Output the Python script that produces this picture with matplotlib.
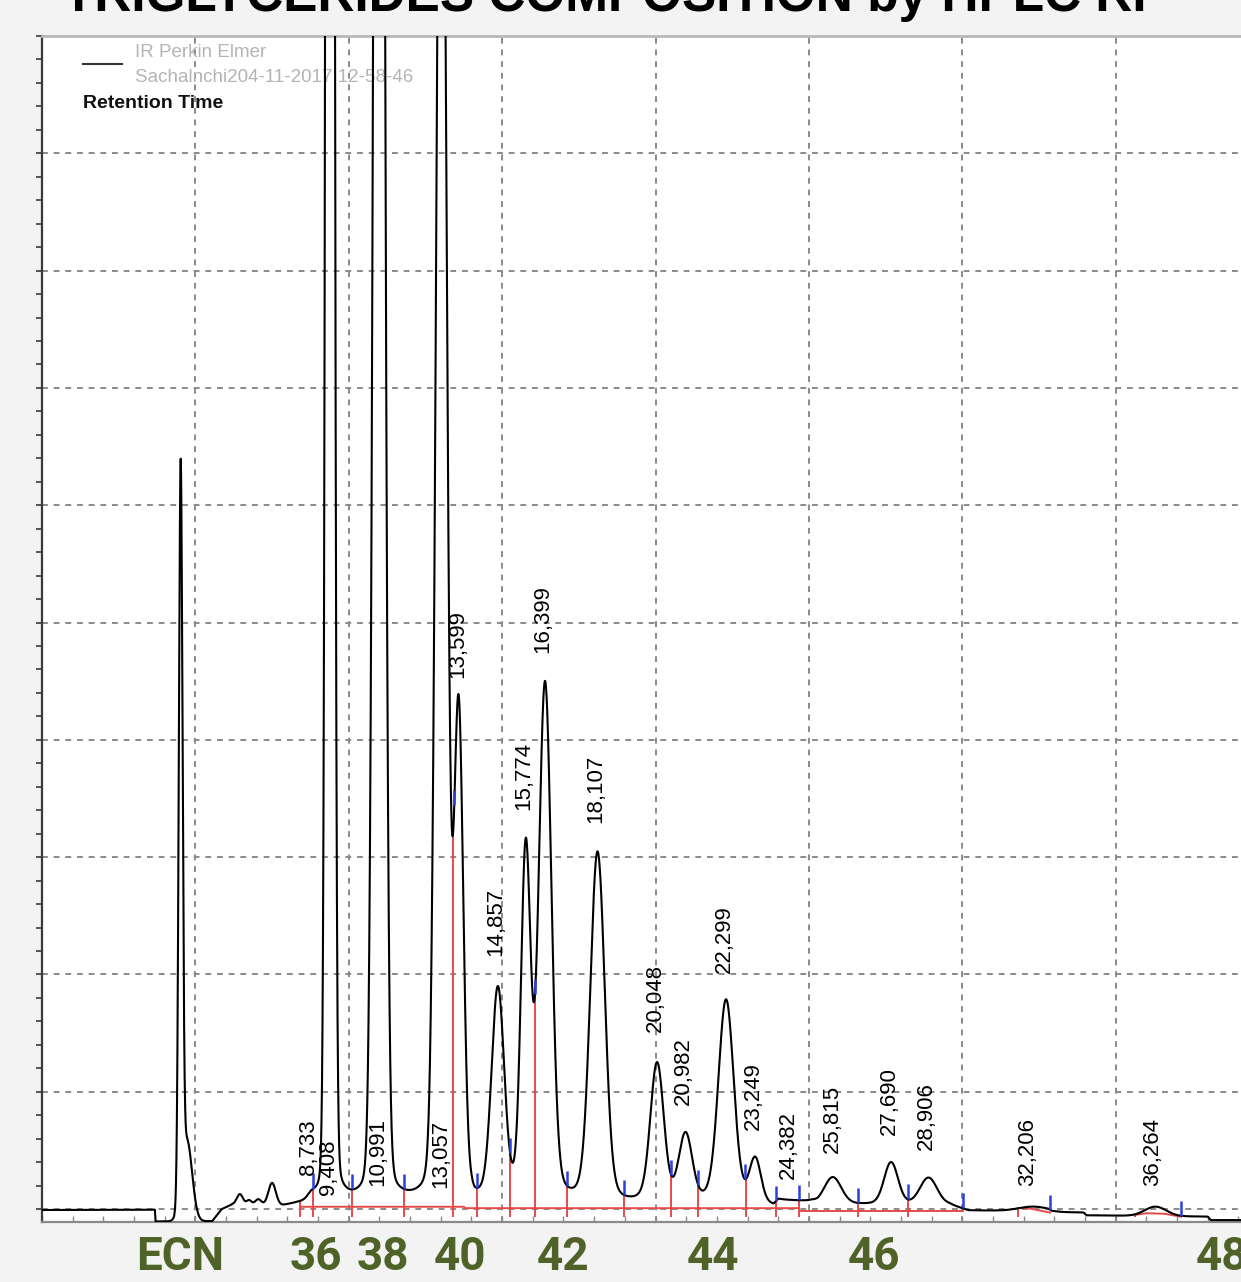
import numpy as np
import matplotlib.pyplot as plt

# peak labels printed by the integrator (retention time, min)
label_t = [8.733, 9.408, 10.991, 13.057, 13.599, 14.857, 15.774, 16.399, 18.107,
           20.048, 20.982, 22.299, 23.249, 24.382, 25.815, 27.690, 28.906, 32.206, 36.264]
label_txt = ["8,733", "9,408", "10,991", "13,057", "13,599", "14,857", "15,774", "16,399",
             "18,107", "20,048", "20,982", "22,299", "23,249", "24,382", "25,815", "27,690",
             "28,906", "32,206", "36,264"]
label_y = [29, 12, 20, 18, 453, 216, 340, 474, 329, 151, 89, 201, 67, 26, 48, 63, 50, 20, 20]

# peaks: centre (min), height, width (min), tail share
peak_t = [4.52, 4.72, 6.45, 6.75, 7.05, 7.50, 8.78, 9.39, 10.99, 13.02, 13.58, 14.86,
          15.77, 16.40, 18.11, 20.05, 20.98, 22.30, 23.25, 25.78, 27.68, 28.90, 32.30, 36.30]
peak_h = [615, 70, 9, 4, 5, 19, 4, 5000, 2650, 1400, 412, 180,
          295, 440, 300, 120, 58, 176, 38, 23, 36, 23, 3.5, 8]
peak_w = [0.06, 0.17, 0.10, 0.08, 0.10, 0.12, 0.12, 0.09, 0.14, 0.16, 0.15, 0.20,
          0.15, 0.20, 0.23, 0.21, 0.21, 0.24, 0.18, 0.27, 0.22, 0.27, 0.45, 0.35]
peak_tail = [0, 0, 0, 0, 0, 0, 0, 0.02, 0.03, 0.05, 0.05, 0.10,
             0.10, 0.10, 0.10, 0.15, 0.15, 0.15, 0.12, 0.10, 0.10, 0.10, 0, 0]

# detector baseline (drift and steps)
base_t = [0, 3.68, 3.70, 5.55, 5.85, 6.2, 7.8, 8.3, 14.0, 14.1, 23.85, 24.0, 25.1, 25.3,
          29.6, 30.2, 32.8, 32.9, 33.95, 34.05, 38.0, 38.1, 40]
base_y = [-1, -1, -11, -11, -1, 3, 1, 2, 2, 0, 0, 5, 5, 3,
          3, -1.7, -1.7, -3, -3, -5.5, -6.5, -9.5, -9.5]

# integration marks
drop_t = [8.41, 8.84, 10.11, 11.80, 13.40, 14.18, 15.26, 16.07, 17.12, 18.97,
          20.51, 21.39, 22.95, 23.93, 24.68, 26.61, 28.24, 31.82, 35.64]
mark_t = [8.84, 10.11, 11.80, 13.44, 14.18, 15.26, 16.07, 17.12, 18.97, 20.51,
          21.39, 22.92, 23.93, 24.68, 26.61, 28.24, 30.03, 32.87, 37.14]
red_segs = [([8.41, 13.75, 13.8, 24.68], [2, 2, 0.8, 0.8]),
            ([24.68, 30.03], [-1.7, -1.7]),
            ([31.82, 32.2, 32.87], [1, 0.5, -3]),
            ([35.64, 36.0, 36.6, 37.14], [-5, -3.5, -4, -6.5])]

ecn_txt = ["ECN", "36", "38", "40", "42", "44", "46", "48"]
ecn_t = [4.5, 8.93, 11.1, 13.63, 16.99, 21.88, 27.13, 38.47]

SANS = ["Liberation Sans", "DejaVu Sans"]
OLIVE = "#4f6228"
RED = "#e84a4a"
BLUE = "#2a3fe0"

fig = plt.figure(figsize=(12.41, 12.82), dpi=100)
fig.patch.set_facecolor("#f3f3f3")
ax = fig.add_axes([42 / 1241, 60 / 1282, 1227 / 1241, 1186 / 1282])
ax.set_facecolor("white")
ax.set_xlim(0, 40)
ax.set_ylim(-11, 1000)

# signal
t = np.linspace(0, 40, 16001)
sig = np.interp(t, base_t, base_y)
for c, h, w, eta in zip(peak_t, peak_h, peak_w, peak_tail):
    d = t - c
    sig += h * ((1 - eta) * np.exp(-d ** 2 / (2 * w ** 2)) + eta / (1 + (d / (2 * w)) ** 2))

for gx in range(5, 40, 5):
    ax.axvline(gx, color="#8a8a8a", lw=1.4, ls=(0, (3, 3)), zorder=1)
for gy in range(0, 1000, 100):
    ax.axhline(gy, color="#8a8a8a", lw=1.4, ls=(0, (3, 3)), zorder=1)

# legend-like header
ax.plot([0.0334, 0.0652], [0.9764, 0.9764], color="#333333", lw=1.5,
        transform=ax.transAxes, zorder=2)
ax.text(0.0758, 0.9865, "IR Perkin Elmer", transform=ax.transAxes, va="center",
        fontsize=13.5, color="#b4b4b4", family=SANS, zorder=2)
ax.text(0.0758, 0.9654, "Sachalnchi204-11-2017 12-58-46", transform=ax.transAxes,
        va="center", fontsize=13.5, color="#b4b4b4", family=SANS, zorder=2)
ax.text(0.0334, 0.9427, "Retention Time", transform=ax.transAxes, va="center",
        fontsize=14, color="#111111", family=SANS, weight="bold", zorder=2)

# integration baseline, drop lines and marks
for st, sy in red_segs:
    ax.plot(st, sy, color=RED, lw=1.4, zorder=3)
ax.vlines(drop_t, -7, np.interp(drop_t, t, sig), color=RED, lw=1.4, zorder=3)
ym = np.interp(mark_t, t, sig)
ax.vlines(mark_t, ym, ym + 13, color=BLUE, lw=1.8, zorder=5)

ax.plot(t, sig, color="black", lw=1.5, zorder=4)

for lt, txt, ly in zip(label_t, label_txt, label_y):
    ax.text(lt - 0.06, ly, txt, rotation=90, ha="center", va="bottom",
            fontsize=16, family=SANS, zorder=6)

ax.spines["right"].set_visible(False)
ax.spines["top"].set_color("#b8b8b8")
ax.spines["top"].set_linewidth(2)
ax.spines["left"].set_color("#3a3a3a")
ax.spines["left"].set_linewidth(1.6)
ax.spines["bottom"].set_color("#8a8a8a")
ax.spines["bottom"].set_linewidth(1.6)

ax.set_xticks(np.arange(0, 41, 1))
ax.set_yticks(np.arange(0, 1001, 20))
ax.tick_params(axis="x", direction="in", length=4, width=1, color="#8a8a8a",
               labelbottom=False)
ax.tick_params(axis="y", direction="out", length=4, width=1.2, color="#3a3a3a",
               labelleft=False)

for txt, et in zip(ecn_txt, ecn_t):
    ax.text(et, -0.0405, txt, transform=ax.get_xaxis_transform(), ha="center",
            va="baseline", fontsize=33, weight="bold", color=OLIVE,
            family=["Roboto", "DejaVu Sans"], clip_on=False)

fig.text(605 / 1241, 1 - 11 / 1282, "TRIGLYCERIDES COMPOSITION by HPLC RI",
         ha="center", va="baseline", fontsize=37, weight="bold", color="black",
         family=SANS)

fig.savefig("out.png", dpi=100, facecolor=fig.get_facecolor())
